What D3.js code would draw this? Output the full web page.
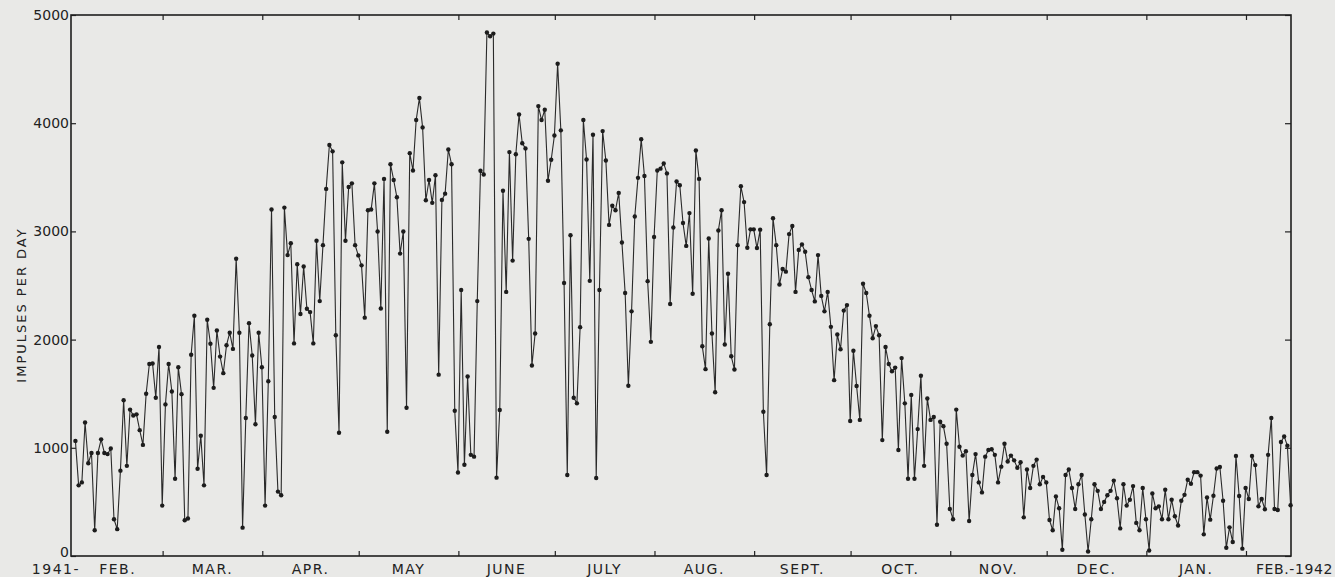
<!DOCTYPE html>
<html>
<head>
<meta charset="utf-8">
<script src="https://cdn.jsdelivr.net/npm/d3@7"></script>
<style>
	html, body { margin: 0; padding: 0; background: #e9e9e7; }
	svg { display: block; }
	text { font-family: "DejaVu Sans", sans-serif; fill: #222; }
</style>
</head>
<body>
<svg class="chart" width="1335" height="577"></svg>
<script>
// daily impulses, one array per month (Feb 1941 - mid Feb 1942)
const feb41 = [1064, 653, 680, 1234, 857, 952, 238, 952, 1078, 952, 942, 993, 340, 248, 789, 1439, 833, 1353, 1299, 1309, 1163, 1027, 1500, 1775, 1779, 1462, 1932, 466];
const mar41 = [1401, 1775, 1520, 714, 1745, 1496, 330, 347, 1860, 2220, 806, 1112, 653, 2183, 1962, 1554, 2084, 1843, 1690, 1948, 2064, 1914, 2747, 2064, 262, 1275, 2152, 1853, 1217, 2064, 1744];
const apr41 = [466, 1615, 3203, 1285, 595, 561, 3220, 2781, 2890, 1965, 2696, 2237, 2676, 2285, 2254, 1965, 2914, 2356, 2873, 3393, 3798, 3740, 2040, 1139, 3638, 2914, 3410, 3444, 2873, 2778];
const may41 = [2686, 2203, 3196, 3203, 3444, 2999, 2288, 3485, 1149, 3621, 3475, 3315, 2795, 2999, 1370, 3723, 3563, 4029, 4233, 3961, 3288, 3475, 3264, 3519, 1676, 3291, 3349, 3757, 3621, 1343, 772];
const jun41 = [2458, 843, 1659, 935, 918, 2356, 3560, 3526, 4838, 4804, 4828, 724, 1350, 3376, 2441, 3733, 2730, 3713, 4080, 3815, 3767, 2931, 1761, 2057, 4158, 4029, 4124, 3468, 3662, 3886];
const jul41 = [4549, 3934, 2523, 748, 2965, 1462, 1411, 2115, 4029, 3665, 2543, 3893, 721, 2458, 3927, 3655, 3060, 3237, 3196, 3356, 2897, 2431, 1574, 2261, 3138, 3495, 3852, 3512, 2540, 1979, 2948];
const aug41 = [3563, 3580, 3628, 3536, 2329, 3036, 3461, 3427, 3077, 2866, 3169, 2424, 3747, 3485, 1938, 1727, 2934, 2057, 1513, 3009, 3196, 1955, 2608, 1846, 1724, 2873, 3417, 3271, 2849, 3019, 3019];
const sep41 = [2846, 3016, 1333, 748, 2142, 3121, 2873, 2509, 2652, 2628, 2975, 3050, 2441, 2829, 2880, 2812, 2577, 2458, 2353, 2781, 2404, 2261, 2441, 2118, 1625, 2047, 1911, 2268, 2319, 1248];
const oct41 = [1897, 1571, 1258, 2516, 2431, 2220, 2013, 2125, 2040, 1071, 1931, 1775, 1707, 1741, 979, 1829, 1411, 714, 1489, 714, 1173, 1666, 833, 1455, 1258, 1285, 289, 1241, 1200, 1037, 435];
const nov41 = [340, 1353, 1010, 928, 969, 323, 748, 942, 680, 588, 918, 979, 986, 935, 680, 826, 1037, 874, 928, 884, 816, 867, 357, 799, 629, 833, 891, 663, 731, 680];
const dec41 = [333, 238, 551, 442, 58, 748, 799, 629, 435, 663, 748, 384, 41, 340, 663, 602, 435, 500, 561, 602, 697, 534, 255, 663, 466, 520, 646, 306, 238, 629, 340];
const jan42 = [51, 578, 442, 459, 340, 612, 340, 520, 367, 282, 510, 565, 705, 668, 775, 775, 743, 200, 540, 336, 557, 809, 823, 510, 76, 265, 129, 925, 554, 68, 629];
const feb42 = [527, 925, 840, 459, 527, 432, 935, 1275, 435, 425, 1054, 1105, 1020, 469];

const monthLabels = ["FEB.", "MAR.", "APR.", "MAY", "JUNE", "JULY", "AUG.", "SEPT.", "OCT.", "NOV.", "DEC.", "JAN.", "FEB.-1942"];
const yearLabel = "1941-";
const yTicks = [0, 1000, 2000, 3000, 4000, 5000];
const yTitle = "IMPULSES PER DAY";

const monthValues = [feb41, mar41, apr41, may41, jun41, jul41, aug41, sep41, oct41, nov41, dec41, jan42, feb42];
const monthStarts = d3.timeMonth.range(new Date(1941, 1, 1), new Date(1942, 2, 1));

const values = [];
monthValues.forEach(function(arr, m) {
	arr.forEach(function(v, i) {
		values.push([d3.timeDay.offset(monthStarts[m], i), v]);
	});
});

var svg = d3.select("svg.chart"),
    frame = {left: 71, right: 1291, top: 15, bottom: 556};

var x = d3.scaleTime()
    .domain([new Date(1941, 0, 31, 12), new Date(1942, 1, 15)])
    .range([frame.left, frame.right]);

var y = d3.scaleLinear()
    .domain([0, 5000])
    .range([frame.bottom, frame.top]);

// each reading sits near the end of its day
function px(d) { return x(d3.timeHour.offset(d[0], 21)); }

// month ticks, inside the frame on top and bottom
svg.append("g")
	.attr("transform", "translate(0," + frame.bottom + ")")
	.call(d3.axisBottom(x).tickValues(monthStarts.slice(1)).tickSize(-5).tickFormat(""))
	.call(g => g.select(".domain").remove());
svg.append("g")
	.attr("transform", "translate(0," + frame.top + ")")
	.call(d3.axisTop(x).tickValues(monthStarts.slice(1)).tickSize(-5).tickFormat(""))
	.call(g => g.select(".domain").remove());

// y axis, ticks inside
svg.append("g")
	.attr("transform", "translate(" + frame.left + ",0)")
	.call(d3.axisLeft(y).tickValues(yTicks).tickSize(-5).tickPadding(2).tickFormat(d3.format("d")))
	.call(g => g.select(".domain").remove())
	.call(g => g.selectAll("text").style("font-size", "14px").attr("fill", "#222"))
	// the zero sits a little higher, clear of the year label
	.call(g => g.selectAll(".tick").filter(d => d === 0).select("text").attr("dy", "0.05em"));
svg.append("g")
	.attr("transform", "translate(" + frame.right + ",0)")
	.call(d3.axisRight(y).tickValues(yTicks).tickSize(-6).tickFormat(""))
	.call(g => g.select(".domain").remove());

svg.selectAll(".tick line").attr("stroke", "#222").attr("stroke-width", 1.2);

// frame
svg.append("rect")
	.attr("x", frame.left).attr("y", frame.top)
	.attr("width", frame.right - frame.left).attr("height", frame.bottom - frame.top)
	.attr("fill", "none")
	.attr("stroke", "#1e1e1e")
	.attr("stroke-width", 1.6);

// month names centred under each month
var monthText = svg.append("g")
	.style("font-size", "14px")
	.style("letter-spacing", "1.5px");
monthLabels.forEach(function(lbl, i) {
	var s = monthStarts[i];
	if (i === monthLabels.length - 1) {
		monthText.append("text")
			.attr("x", 1333).attr("y", 574)
			.attr("text-anchor", "end")
			.style("letter-spacing", "0.6px")
			.text(lbl);
	} else {
		var e = d3.timeMonth.offset(s, 1);
		monthText.append("text")
			.attr("x", (x(s) + x(e)) / 2).attr("y", 574)
			.attr("text-anchor", "middle")
			.text(lbl);
	}
});
monthText.append("text")
	.attr("x", 80).attr("y", 574)
	.attr("text-anchor", "end")
	.text(yearLabel);

svg.append("text")
	.attr("transform", "translate(26,305) rotate(-90)")
	.attr("text-anchor", "middle")
	.style("font-size", "13px")
	.style("letter-spacing", "2px")
	.text(yTitle);

var line = d3.line()
    .x(px)
    .y(function(d) { return y(d[1]); });

svg.append("path")
	.datum(values)
	.attr("fill", "none")
	.attr("stroke", "#2a2a2a")
	.attr("stroke-width", 1.1)
	.attr("stroke-linejoin", "round")
	.attr("d", line);

svg.append("g")
	.selectAll("circle")
	.data(values)
	.join("circle")
	.attr("cx", px)
	.attr("cy", function(d) { return y(d[1]); })
	.attr("r", 2.2)
	.attr("fill", "#1c1c1c");
</script>
</body>
</html>
